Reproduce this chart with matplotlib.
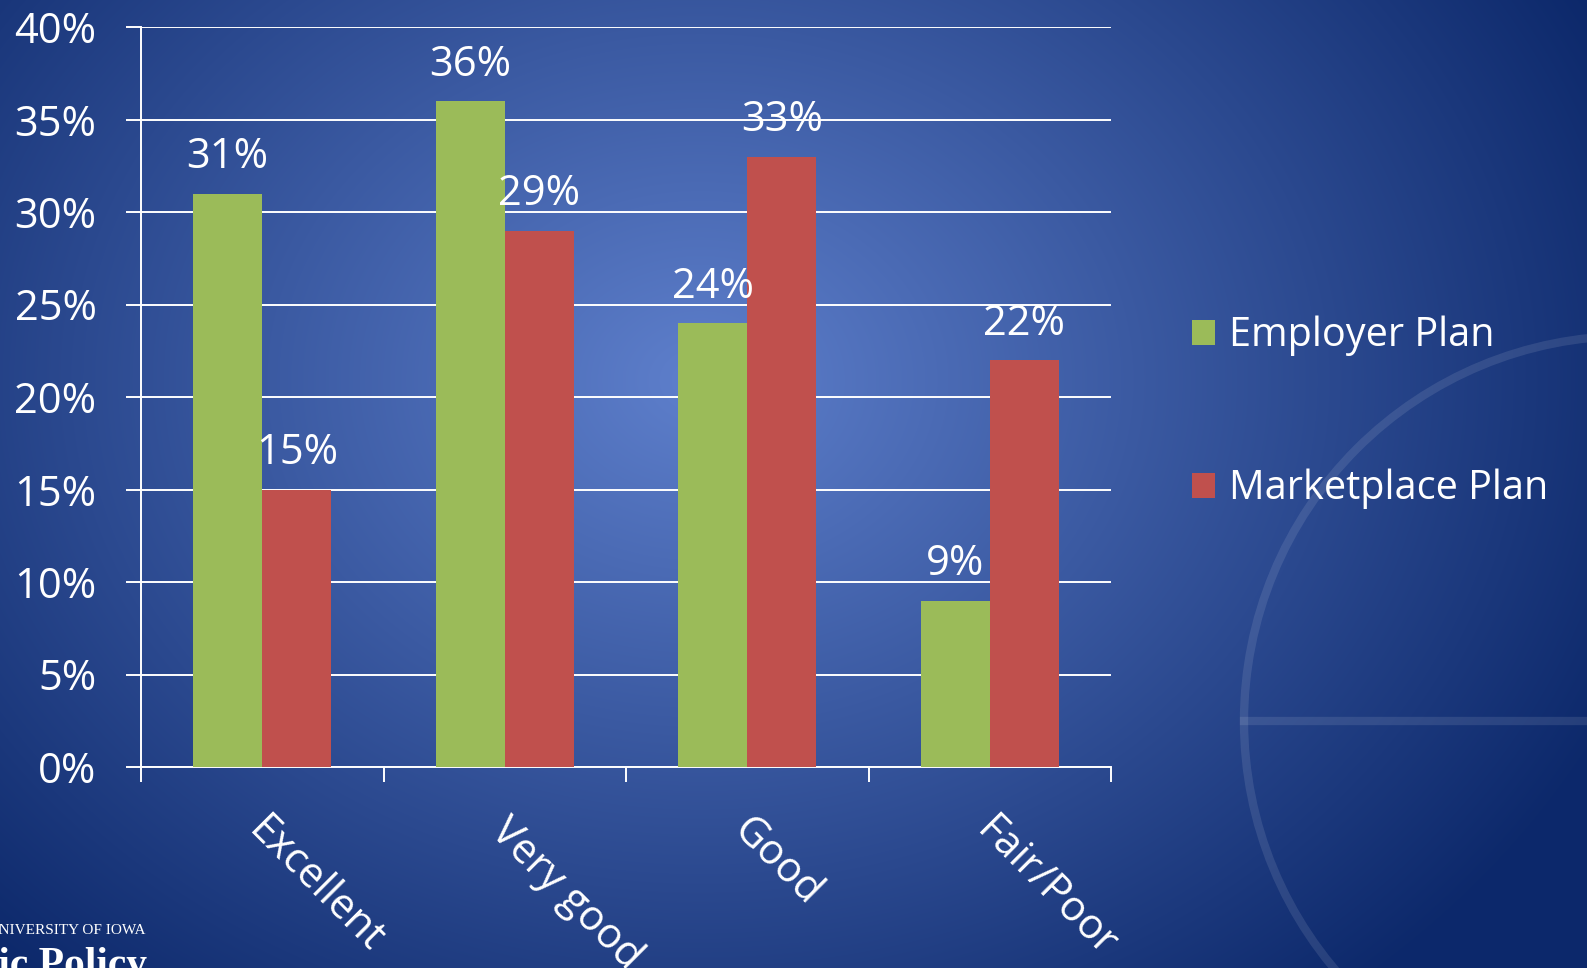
import numpy as np
import matplotlib.pyplot as plt
from matplotlib.patches import Circle

plt.rcParams['font.family'] = ['Open Sans', 'DejaVu Sans']

categories = ['Excellent', 'Very good', 'Good', 'Fair/Poor']
employer = [31, 36, 24, 9]
marketplace = [15, 29, 33, 22]
series_names = ['Employer Plan', 'Marketplace Plan']
yticks = [0, 5, 10, 15, 20, 25, 30, 35, 40]

green = '#9BBB59'
red = '#C0504D'

W, H = 1587, 968
fig = plt.figure(figsize=(W / 100, H / 100), dpi=100)

# slide background: radial blue gradient with a faint ring on the right
bg = fig.add_axes([0, 0, 1, 1])
yy, xx = np.mgrid[0:H, 0:W]
d = np.sqrt(((xx - 700) / 1000) ** 2 + ((yy - 380) / 800) ** 2)
d = np.clip(d, 0, 1)[..., None]
inner = np.array([0.37, 0.50, 0.80])
outer = np.array([0.05, 0.16, 0.42])
img = inner * (1 - d) + outer * d
bg.imshow(img, extent=[0, W, H, 0], aspect='auto')
bg.add_patch(Circle((1629, 721), 385, fill=False, ec='white', lw=6, alpha=0.1))
bg.plot([1244, W], [721, 721], color='white', lw=6, alpha=0.1)
bg.set_xlim(0, W)
bg.set_ylim(H, 0)
bg.axis('off')

bg.text(146, 930, 'THE UNIVERSITY OF IOWA', color='white', fontsize=11,
        family='Liberation Serif', ha='right', va='center')
bg.text(147, 966, 'Public Policy', color='white', fontsize=30, weight='bold',
        family='Liberation Serif', ha='right', va='center')

# chart area
ax = fig.add_axes([141 / W, 1 - 767 / H, (1111 - 141) / W, (767 - 27) / H])
ax.set_facecolor('none')

x = np.arange(len(categories))
w = 0.285
b1 = ax.bar(x - w / 2, employer, w, color=green, label=series_names[0], zorder=3)
b2 = ax.bar(x + w / 2, marketplace, w, color=red, label=series_names[1], zorder=3)

fs = 30
for bars, vals in ((b1, employer), (b2, marketplace)):
    for r, v in zip(bars, vals):
        ax.annotate(f'{v}%', (r.get_x() + r.get_width() / 2, v),
                    xytext=(0, 11), textcoords='offset points',
                    ha='center', va='bottom', color='white', fontsize=fs)

ax.set_xlim(-0.5, len(categories) - 0.5)
ax.set_ylim(0, 40)
ax.set_yticks(yticks)
ax.set_yticklabels([f'{t}%' for t in yticks], fontsize=fs, color='white')
ax.yaxis.grid(True, color='white', lw=1.4, zorder=1)
ax.tick_params(axis='y', length=11, width=1.4, color='white', pad=21)

ax.set_xticks(np.arange(len(categories) + 1) - 0.5)
ax.set_xticklabels([])
ax.tick_params(axis='x', length=11, width=1.4, color='white')
for i, c in enumerate(categories):
    ax.text(i + 0.03, -2.3, c, rotation=-45, rotation_mode='anchor',
            ha='left', va='top', color='white', fontsize=fs)

for s in ('top', 'right'):
    ax.spines[s].set_visible(False)
for s in ('left', 'bottom'):
    ax.spines[s].set_color('white')
    ax.spines[s].set_linewidth(1.4)

leg = fig.legend(handles=[b1, b2], loc='upper left',
                 bbox_to_anchor=(1156 / W, 1 - 280 / H), frameon=False,
                 fontsize=28.5, labelcolor='white', handlelength=0.6,
                 handleheight=0.6, handletextpad=0.35, labelspacing=2.85)

fig.savefig('out.png', dpi=100)
